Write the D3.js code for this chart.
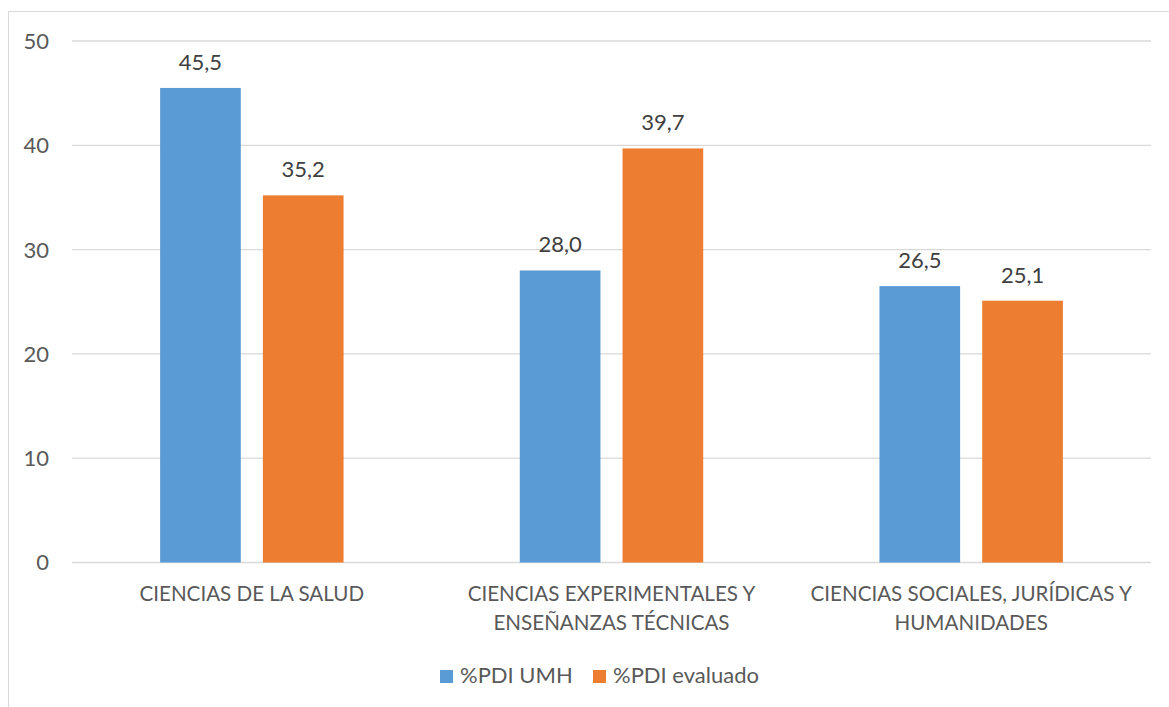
<!DOCTYPE html>
<html>
<head>
<meta charset="utf-8">
<script src="https://cdn.jsdelivr.net/npm/d3@7"></script>
<style>
  body { margin: 0; background: #fff; }
  text { font-family: Lato, "Open Sans", sans-serif; }
</style>
</head>
<body>
<div id="chart"></div>
<script>
const categories = [
  ["CIENCIAS DE LA SALUD"],
  ["CIENCIAS EXPERIMENTALES Y", "ENSEÑANZAS TÉCNICAS"],
  ["CIENCIAS SOCIALES, JURÍDICAS Y", "HUMANIDADES"]
];
const seriesNames = ["%PDI UMH", "%PDI evaluado"];
const seriesColors = ["#5b9bd5", "#ed7d31"];
const pdiUMH = [45.5, 28.0, 26.5];
const pdiEvaluado = [35.2, 39.7, 25.1];
const yTicks = [0, 10, 20, 30, 40, 50];

const W = 1169, H = 707;
const margin = { top: 41, right: 18, bottom: 144.5, left: 72 };
const width = W - margin.left - margin.right,
      height = H - margin.top - margin.bottom;

const svg = d3.select("#chart").append("svg")
  .attr("width", W).attr("height", H);

// chart border
svg.append("rect")
  .attr("x", 8.5).attr("y", 11.5)
  .attr("width", W).attr("height", H)
  .attr("fill", "none").attr("stroke", "#d9d9d9");

const g = svg.append("g")
  .attr("transform", `translate(${margin.left},${margin.top})`);

const x0 = d3.scaleBand()
  .domain(d3.range(categories.length))
  .range([0, width])
  .paddingInner(0.49).paddingOuter(0.245);

const x1 = d3.scaleBand()
  .domain(d3.range(seriesNames.length))
  .range([0, x0.bandwidth()])
  .paddingInner(0.215);

const y = d3.scaleLinear().domain([0, 50]).range([height, 0]);

// gridlines
g.selectAll(".grid")
  .data(yTicks)
  .enter().append("line")
  .attr("x1", 0).attr("x2", width)
  .attr("y1", d => y(d)).attr("y2", d => y(d))
  .attr("stroke", "#d9d9d9").attr("stroke-width", 1.3);

// y tick labels
g.selectAll(".ylab")
  .data(yTicks)
  .enter().append("text")
  .attr("x", -23)
  .attr("y", d => y(d))
  .attr("dy", "0.36em")
  .attr("text-anchor", "end")
  .attr("fill", "#595959")
  .style("font-size", "22px")
  .text(d => d);

const values = [pdiUMH, pdiEvaluado];

values.forEach((vals, s) => {
  g.selectAll(`.bar-${s}`)
    .data(vals)
    .enter().append("rect")
    .attr("x", (d, i) => x0(i) + x1(s))
    .attr("y", d => y(d))
    .attr("width", x1.bandwidth())
    .attr("height", d => height - y(d))
    .attr("fill", seriesColors[s]);

  g.selectAll(`.lab-${s}`)
    .data(vals)
    .enter().append("text")
    .attr("x", (d, i) => x0(i) + x1(s) + x1.bandwidth() / 2)
    .attr("y", d => y(d) - 18)
    .attr("text-anchor", "middle")
    .attr("fill", "#404040")
    .style("font-size", "22px")
    .text(d => d.toFixed(1).replace(".", ","));
});

// category labels
const step = width / categories.length;
categories.forEach((lines, i) => {
  const t = g.append("text")
    .attr("text-anchor", "middle")
    .attr("fill", "#595959")
    .style("font-size", "20.6px");
  lines.forEach((ln, j) => {
    t.append("tspan")
      .attr("x", step * i + step / 2)
      .attr("y", height + 38.5 + j * 29)
      .text(ln);
  });
});

// legend
const legendX = [440, 593];
const legend = svg.append("g");
seriesNames.forEach((name, s) => {
  legend.append("rect")
    .attr("x", legendX[s]).attr("y", 670)
    .attr("width", 13).attr("height", 13)
    .attr("fill", seriesColors[s]);
  legend.append("text")
    .attr("x", legendX[s] + 20).attr("y", 683)
    .attr("fill", "#595959")
    .style("font-size", "22px")
    .text(name);
});
</script>
</body>
</html>
